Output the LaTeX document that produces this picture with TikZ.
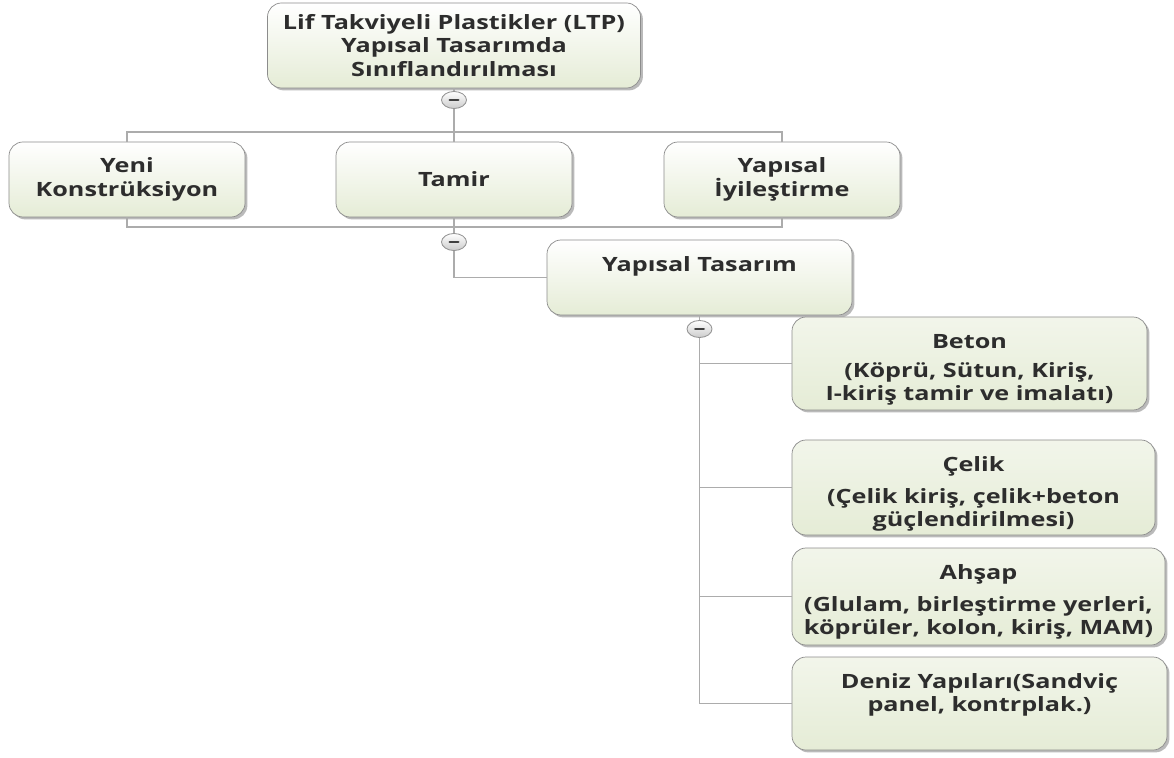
\documentclass[tikz,border=0pt]{standalone}
\usepackage{fontspec}
\newfontfamily\boxfont{Open Sans}[FakeStretch=1.28]
\usetikzlibrary{shapes.geometric,shadows}
\definecolor{boxgreen}{RGB}{229,236,214}
\definecolor{linegray}{RGB}{172,172,172}
\definecolor{edgegray}{RGB}{140,140,140}
\definecolor{textgray}{RGB}{45,45,45}
% text hanging from the top of a box
\newcommand{\toptext}[3]{\parbox[t][#2][t]{#1}{\centering\rule{0pt}{7.8mm}#3}}

\begin{document}
\begin{tikzpicture}[x=0.25mm,y=-0.25mm]
\tikzstyle{box}=[rectangle, rounded corners=3.5mm, draw=edgegray, line width=0.5pt, top color=white, bottom color=boxgreen, drop shadow={shadow xshift=0.6mm, shadow yshift=-0.6mm, fill=black!60, opacity=0.45}, font=\boxfont\bfseries\fontsize{14}{16.6}\selectfont, text=textgray, align=center, inner sep=0pt]
\tikzstyle{leaf}=[box, top color=boxgreen!50!white, bottom color=boxgreen]
\tikzstyle{link}=[draw=linegray, line width=0.9pt]
\tikzstyle{toggle}=[ellipse, draw=gray!85, line width=0.6pt, top color=white, bottom color=gray!40, minimum width=6.25mm, minimum height=4.25mm, inner sep=0pt, path picture={\draw[line width=1.6pt, line cap=round, black!75] ([xshift=-1.1mm]path picture bounding box.center) -- ([xshift=1.1mm]path picture bounding box.center);}]

\useasboundingbox (0,0) rectangle (1174,758);

% Root
\node[box, minimum width=93.25mm, minimum height=21.25mm] (root) at (454,45.5) {\rule{0pt}{3.4mm}Lif Takviyeli Plastikler (LTP)\\Yapısal Tasarımda\\Sınıflandırılması};
\node[toggle] (t1) at (454,100) {};

% Level 1
\coordinate (topbar) at (0,132);
\coordinate (botbar) at (0,227);
\node[box, minimum width=59mm, minimum height=18.75mm] (yeni) at (127,179.5) {\rule{0pt}{3.4mm}Yeni\\Konstrüksiyon};
\node[box, minimum width=59mm, minimum height=18.75mm] (tamir) at (454,179.5) {Tamir};
\node[box, minimum width=59mm, minimum height=18.75mm] (iyi) at (782,179.5) {\rule{0pt}{3.4mm}Yapısal\\İyileştirme};
\node[toggle] (t2) at (454,242) {};

% Level 2
\node[box] (tasarim) at (699.5,277.5) {\toptext{76.25mm}{18.75mm}{Yapısal Tasarım}};
\node[toggle] (t3) at (699.5,329) {};

% Level 3
\node[leaf] (beton) at (969.5,363.5) {\toptext{88.75mm}{23.25mm}{Beton\\[1.4mm](Köprü, Sütun, Kiriş,\\I-kiriş tamir ve imalatı)}};
\node[leaf] (celik) at (973.5,487.5) {\toptext{90.75mm}{23.75mm}{Çelik\\[2.2mm](Çelik kiriş, çelik+beton\\güçlendirilmesi)}};
\node[leaf] (ahsap) at (978.5,596.5) {\toptext{93.25mm}{24.25mm}{Ahşap\\[2.2mm](Glulam, birleştirme yerleri,\\köprüler, kolon, kiriş, MAM)}};
\node[leaf] (deniz) at (979.5,703.5) {\toptext{93.75mm}{23.25mm}{Deniz Yapıları(Sandviç\\panel, kontrplak.)}};

% Connectors
\draw[link] (root) -- (t1);
\draw[link] (t1) -- (t1 |- topbar);
\draw[link] (yeni.north) -- (yeni.north |- topbar) -- (iyi.north |- topbar) -- (iyi.north);
\draw[link] (tamir.north |- topbar) -- (tamir.north);
\draw[link] (yeni.south) -- (yeni.south |- botbar) -- (iyi.south |- botbar) -- (iyi.south);
\draw[link] (tamir.south) -- (t2);
\draw[link] (t2) |- (tasarim.west);
\draw[link] (tasarim) -- (t3);
\foreach \leafname in {beton,celik,ahsap,deniz}
  \draw[link] (t3) |- (\leafname.west);
\end{tikzpicture}
\end{document}
